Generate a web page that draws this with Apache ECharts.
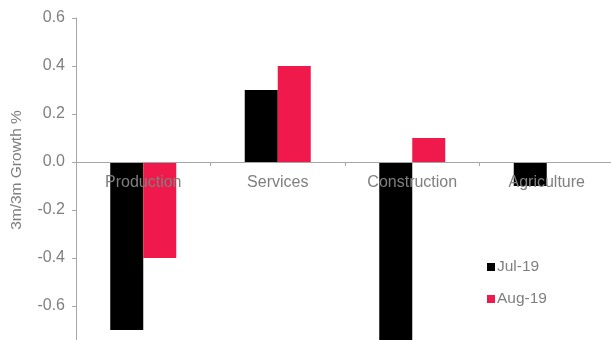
<!DOCTYPE html>
<html><head><meta charset="utf-8">
<script src="https://cdn.jsdelivr.net/npm/echarts@6/dist/echarts.min.js"></script>
<style>html,body{margin:0;padding:0;background:#fff}#c{width:611px;height:340px}</style>
</head><body><div id="c"></div>
<script>
const categories = ['Production', 'Services', 'Construction', 'Agriculture'];
const jul19 = [-0.7, 0.3, -0.8, -0.1];
const aug19 = [-0.4, 0.4, 0.1, 0.0];
const seriesNames = ['Jul-19', 'Aug-19'];
const yAxisTitle = '3m/3m Growth %';

const chart = echarts.init(document.getElementById('c'), null, {renderer: 'canvas'});
const grey = '#7f7f7f';
const font = 'Liberation Sans, Arial, sans-serif';
chart.setOption({
  animation: false,
  grid: {left: 76, top: 18, width: 538, height: 336, containLabel: false, outerBoundsMode: 'none'},
  legend: {
    orient: 'vertical', left: 482, top: 254, itemWidth: 8, itemHeight: 8, itemGap: 16,
    icon: 'rect', textStyle: {color: grey, fontSize: 15.5, fontFamily: font, padding: [0,0,0,-3]},
    data: seriesNames
  },
  graphic: [{
    type: 'text', x: 17, y: 170, rotation: Math.PI/2,
    style: {text: yAxisTitle, x: 0, y: 0, align: 'center', verticalAlign: 'middle', fill: grey, font: '15.5px ' + font}
  }],
  xAxis: {
    type: 'category', data: categories, z: 5, position: 'bottom', offset: -192,
    axisLine: {onZero: false, lineStyle: {color: '#a6a6a6', width: 1}},
    axisTick: {show: true, length: 4, lineStyle: {color: '#a6a6a6'}},
    axisLabel: {color: grey, fontSize: 16, fontFamily: font, margin: 13}
  },
  yAxis: {
    type: 'value', min: -0.8, max: 0.6, interval: 0.2,
    axisLine: {show: true, lineStyle: {color: '#a6a6a6'}},
    axisTick: {show: true, length: 4, lineStyle: {color: '#a6a6a6'}},
    splitLine: {show: false},
    axisLabel: {color: grey, fontSize: 16, fontFamily: font, margin: 11,
      formatter: v => v.toFixed(1)}
  },
  series: [
    {name: seriesNames[0], type: 'bar', data: jul19, barWidth: 33, barGap: '0%', itemStyle: {color: '#000000'}},
    {name: seriesNames[1], type: 'bar', data: aug19, barWidth: 33, barGap: '0%', itemStyle: {color: '#f0194b'}}
  ]
});
</script></body></html>
